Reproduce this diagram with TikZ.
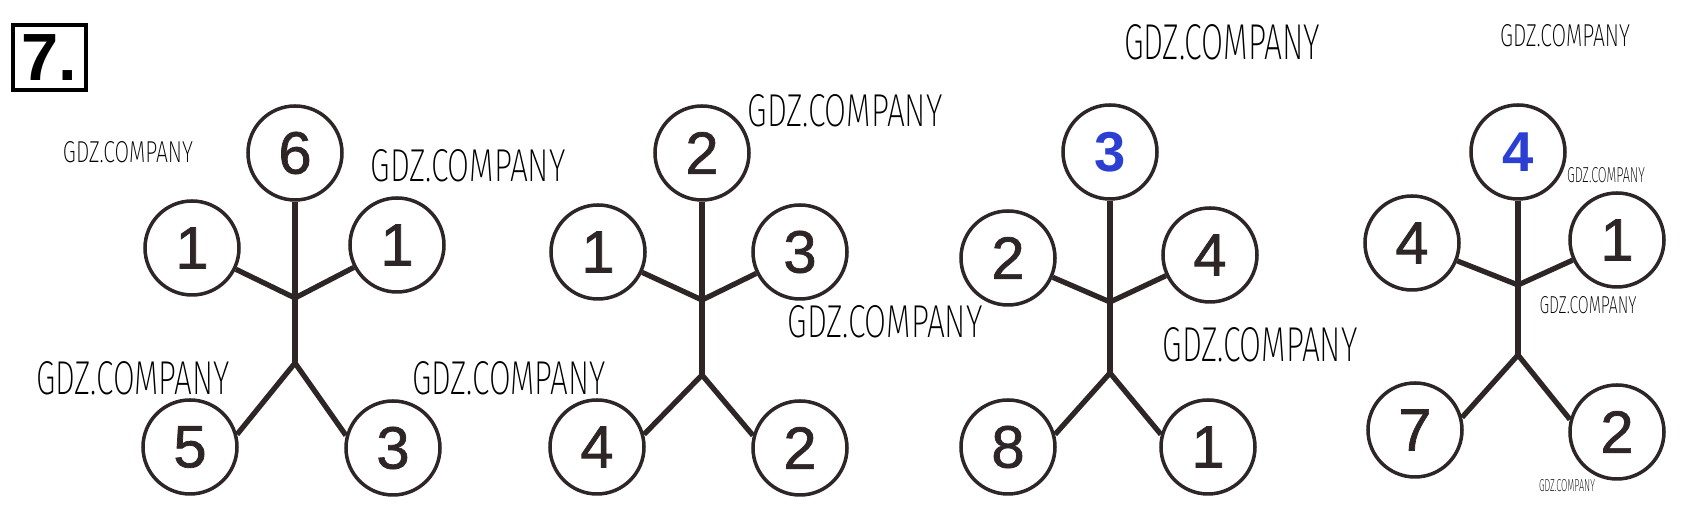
\documentclass[tikz,border=0pt]{standalone}
\usepackage{fontspec}
\setmainfont{Liberation Sans}
\newfontfamily\wmfont{Fira Sans ExtraLight}
\newfontfamily\digitfont{Liberation Sans}[FakeBold=1.2]
\usepackage{graphicx}
\usetikzlibrary{calc}

\definecolor{inkbrown}{HTML}{2E2626}
\definecolor{numblue}{HTML}{2B3FD2}

\newcommand{\gdzmark}[2]{\resizebox{#1}{#2}{\wmfont GDZ.COMPANY}}

\begin{document}
\begin{tikzpicture}[
    text=black,
    digit/.style={circle, draw=inkbrown, line width=1pt, minimum size=0.94cm, inner sep=0pt,
                  text=inkbrown, font=\digitfont\fontsize{17}{20}\selectfont},
    bluedigit/.style={digit, text=numblue, font=\fontsize{16}{19}\selectfont\bfseries},
    limb/.style={draw=inkbrown, line width=1.5pt},
    wmark/.style={inner sep=0pt, text=black},
]

\useasboundingbox[fill=white] (0,0) rectangle (16.99,-5.18);

% Task number box
\node[draw, line width=1.3pt, minimum width=0.73cm, minimum height=0.65cm, inner sep=0pt,
      font=\fontsize{19}{22}\selectfont\bfseries] (task) at (0.495,-0.575) {7.};

% ==================== FIGURE 1 ====================
\begin{scope}[shift={(2.95,-1.53)}]
    \node[digit] (F1_head) at (0,0) {6};
    \node[digit] (F1_la) at (-1.03,-0.95) {1};
    \node[digit] (F1_ra) at (1.02,-0.92) {1};
    \node[digit] (F1_lf) at (-1.05,-2.94) {5};
    \node[digit] (F1_rf) at (0.98,-2.95) {3};

    \coordinate (F1_sh)  at (0,-1.45);
    \coordinate (F1_hip) at (0,-2.10);

    % Body, arms and legs
    \draw[limb] (F1_head) -- (F1_sh) -- (F1_hip);
    \draw[limb] (F1_sh) -- (F1_la);
    \draw[limb] (F1_sh) -- (F1_ra);
    \draw[limb] (F1_hip) -- (F1_lf.15);
    \draw[limb] (F1_hip) -- (F1_rf.165);
\end{scope}

% ==================== FIGURE 2 ====================
\begin{scope}[shift={(7.02,-1.53)}]
    \node[digit] (F2_head) at (0,0) {2};
    \node[digit] (F2_la) at (-1.04,-0.99) {1};
    \node[digit] (F2_ra) at (0.98,-0.99) {3};
    \node[digit] (F2_lf) at (-1.05,-2.94) {4};
    \node[digit] (F2_rf) at (0.98,-2.95) {2};

    \coordinate (F2_sh)  at (0,-1.47);
    \coordinate (F2_hip) at (0,-2.22);

    % Body, arms and legs
    \draw[limb] (F2_head) -- (F2_sh) -- (F2_hip);
    \draw[limb] (F2_sh) -- (F2_la);
    \draw[limb] (F2_sh) -- (F2_ra);
    \draw[limb] (F2_hip) -- (F2_lf.15);
    \draw[limb] (F2_hip) -- (F2_rf.165);
\end{scope}

% ==================== FIGURE 3 ====================
\begin{scope}[shift={(11.10,-1.52)}]
    \node[bluedigit] (F3_head) at (0,0) {3};
    \node[digit] (F3_la) at (-1.02,-1.06) {2};
    \node[digit] (F3_ra) at (1.00,-1.03) {4};
    \node[digit] (F3_lf) at (-1.02,-2.95) {8};
    \node[digit] (F3_rf) at (0.98,-2.95) {1};

    \coordinate (F3_sh)  at (0,-1.50);
    \coordinate (F3_hip) at (0,-2.21);

    % Body, arms and legs
    \draw[limb] (F3_head) -- (F3_sh) -- (F3_hip);
    \draw[limb] (F3_sh) -- (F3_la);
    \draw[limb] (F3_sh) -- (F3_ra);
    \draw[limb] (F3_hip) -- (F3_lf.15);
    \draw[limb] (F3_hip) -- (F3_rf.165);
\end{scope}

% ==================== FIGURE 4 ====================
\begin{scope}[shift={(15.18,-1.52)}]
    \node[bluedigit] (F4_head) at (0,0) {4};
    \node[digit] (F4_la) at (-1.06,-0.91) {4};
    \node[digit] (F4_ra) at (0.99,-0.88) {1};
    \node[digit] (F4_lf) at (-1.03,-2.78) {7};
    \node[digit] (F4_rf) at (0.99,-2.80) {2};

    \coordinate (F4_sh)  at (0,-1.33);
    \coordinate (F4_hip) at (0,-2.03);

    % Body, arms and legs
    \draw[limb] (F4_head) -- (F4_sh) -- (F4_hip);
    \draw[limb] (F4_sh) -- (F4_la);
    \draw[limb] (F4_sh) -- (F4_ra);
    \draw[limb] (F4_hip) -- (F4_lf.15);
    \draw[limb] (F4_hip) -- (F4_rf.165);
\end{scope}

% Watermarks
\node[wmark] (wm1)  at (12.22,-0.42) {\gdzmark{1.96cm}{0.35cm}};
\node[wmark] (wm2)  at (15.65,-0.36) {\gdzmark{1.30cm}{0.22cm}};
\node[wmark] (wm3)  at (8.45,-1.11)  {\gdzmark{1.95cm}{0.32cm}};
\node[wmark] (wm4)  at (1.28,-1.52)  {\gdzmark{1.30cm}{0.21cm}};
\node[wmark] (wm5)  at (4.68,-1.66)  {\gdzmark{1.95cm}{0.32cm}};
\node[wmark] (wm6)  at (1.33,-3.78)  {\gdzmark{1.93cm}{0.33cm}};
\node[wmark] (wm7)  at (5.09,-3.78)  {\gdzmark{1.93cm}{0.33cm}};
\node[wmark] (wm8)  at (8.85,-3.22)  {\gdzmark{1.95cm}{0.32cm}};
\node[wmark] (wm9)  at (12.60,-3.45) {\gdzmark{1.95cm}{0.34cm}};
\node[wmark] (wm10) at (16.06,-1.75) {\gdzmark{0.78cm}{0.15cm}};
\node[wmark] (wm11) at (15.88,-3.05) {\gdzmark{0.97cm}{0.17cm}};
\node[wmark] (wm12) at (15.67,-4.86) {\gdzmark{0.56cm}{0.12cm}};

\end{tikzpicture}
\end{document}
